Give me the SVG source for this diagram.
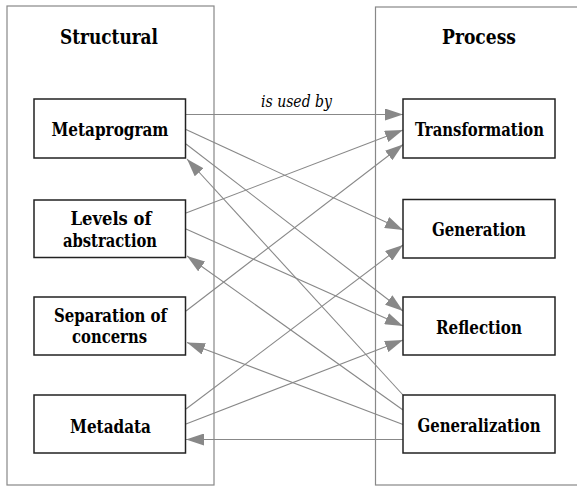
<svg xmlns="http://www.w3.org/2000/svg" width="577" height="486" viewBox="0 0 577 486">
<style>
.container{fill:#fff;stroke:#888;stroke-width:1.2}
.node{fill:#fff;stroke:#222;stroke-width:1.5}
text{font-family:'DejaVu Serif Condensed','DejaVu Serif',serif;font-stretch:condensed;fill:#000}
.hdr{font-weight:bold;font-size:21px;text-anchor:middle}
.lbl{font-weight:bold;font-size:18px;text-anchor:middle}
.edge{stroke:#888;stroke-width:1.1;fill:none;marker-end:url(#arr)}
.elbl{font-style:italic;font-size:16px}
</style>
<defs>
<marker id="arr" markerUnits="userSpaceOnUse" viewBox="0 0 18 12" refX="18" refY="6" markerWidth="18" markerHeight="12" orient="auto">
<path d="M0,0 L18,6 L0,12 Z" fill="#888"/>
</marker>
</defs>
<rect width="577" height="486" fill="#fff"/>
<g id="structural">
<rect class="container" x="7" y="6" width="207" height="479"/>
<text class="hdr" x="109" y="44" textLength="98" lengthAdjust="spacingAndGlyphs">Structural</text>
</g>
<g id="process">
<rect class="container" x="375.5" y="7" width="210" height="478"/>
<text class="hdr" x="479" y="44" textLength="74" lengthAdjust="spacingAndGlyphs">Process</text>
</g>
<g id="connectors">
<line class="edge" x1="186" y1="114.5" x2="403" y2="114.5"/>
<line class="edge" x1="186" y1="129.5" x2="403" y2="230"/>
<line class="edge" x1="186" y1="144" x2="403" y2="311"/>
<line class="edge" x1="186" y1="213" x2="403" y2="130"/>
<line class="edge" x1="186" y1="229" x2="403" y2="326"/>
<line class="edge" x1="186" y1="311" x2="403" y2="144.5"/>
<line class="edge" x1="186" y1="409" x2="403" y2="245"/>
<line class="edge" x1="186" y1="424" x2="403" y2="340"/>
<line class="edge" x1="403" y1="395" x2="187" y2="159"/>
<line class="edge" x1="403" y1="410" x2="187" y2="256"/>
<line class="edge" x1="403" y1="424.5" x2="187" y2="342.5"/>
<line class="edge" x1="403" y1="439.5" x2="186" y2="439.5"/>
<text class="elbl" x="261" y="107" textLength="71" lengthAdjust="spacingAndGlyphs">is used by</text>
</g>
<g id="n-metaprogram">
<rect class="node" x="34" y="99" width="151.5" height="59"/>
<text class="lbl" x="110" y="136" textLength="117" lengthAdjust="spacingAndGlyphs">Metaprogram</text>
</g>
<g id="n-levels">
<rect class="node" x="34" y="200" width="151.5" height="57.5"/>
<text class="lbl" x="111" y="225" textLength="81" lengthAdjust="spacingAndGlyphs">Levels of</text>
<text class="lbl" x="110" y="247" textLength="94" lengthAdjust="spacingAndGlyphs">abstraction</text>
</g>
<g id="n-separation">
<rect class="node" x="34" y="297" width="151.5" height="58"/>
<text class="lbl" x="110.5" y="322" textLength="113" lengthAdjust="spacingAndGlyphs">Separation of</text>
<text class="lbl" x="109.5" y="343" textLength="75" lengthAdjust="spacingAndGlyphs">concerns</text>
</g>
<g id="n-metadata">
<rect class="node" x="34" y="395" width="151.5" height="58"/>
<text class="lbl" x="110.5" y="433" textLength="81" lengthAdjust="spacingAndGlyphs">Metadata</text>
</g>
<g id="n-transformation">
<rect class="node" x="403" y="99" width="152" height="59"/>
<text class="lbl" x="479.5" y="136" textLength="129" lengthAdjust="spacingAndGlyphs">Transformation</text>
</g>
<g id="n-generation">
<rect class="node" x="403" y="199.5" width="152" height="58.5"/>
<text class="lbl" x="479" y="236" textLength="94" lengthAdjust="spacingAndGlyphs">Generation</text>
</g>
<g id="n-reflection">
<rect class="node" x="403" y="297" width="152" height="58"/>
<text class="lbl" x="479" y="334" textLength="86" lengthAdjust="spacingAndGlyphs">Reflection</text>
</g>
<g id="n-generalization">
<rect class="node" x="403" y="395" width="152" height="58"/>
<text class="lbl" x="479" y="432" textLength="123" lengthAdjust="spacingAndGlyphs">Generalization</text>
</g>
</svg>
